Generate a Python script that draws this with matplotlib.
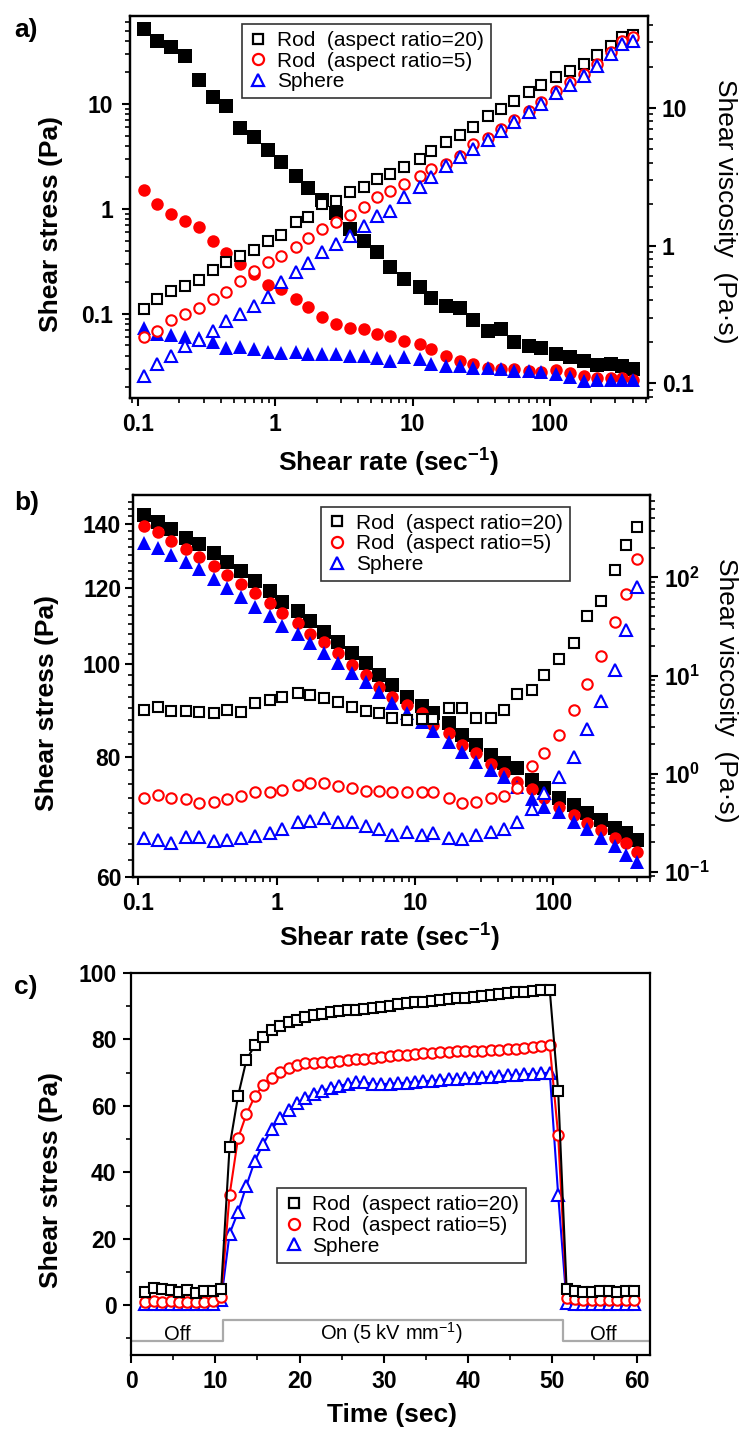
import matplotlib
matplotlib.use('Agg')
import matplotlib.pyplot as plt
from matplotlib.ticker import FixedLocator, NullFormatter, FuncFormatter, LogLocator, MultipleLocator
from matplotlib.lines import Line2D

plt.rcParams['font.family'] = ['Liberation Sans', 'DejaVu Sans']
plt.rcParams['font.weight'] = 'bold'
plt.rcParams['mathtext.default'] = 'regular'
plt.rcParams['axes.linewidth'] = 1.6

# ---------------- data ----------------
series_labels = ['Rod  (aspect ratio=20)', 'Rod  (aspect ratio=5)', 'Sphere']
colors = ['#000000', '#ff0000', '#0000ff']

shear_rate = [0.11, 0.138, 0.173, 0.221, 0.276, 0.351, 0.44, 0.549, 0.698, 0.89,
              1.1, 1.42, 1.73, 2.2, 2.76, 3.5, 4.4, 5.5, 6.8, 8.7,
              11.3, 13.5, 17.5, 22, 27.6, 35.5, 44, 55, 70, 86,
              110, 140, 176, 220, 280, 335, 405]

# panel a : shear stress (open) and viscosity (filled)
stress_rod20_a = [0.112, 0.139, 0.167, 0.186, 0.211, 0.263, 0.31, 0.359, 0.407, 0.50,
                  0.569, 0.746, 0.845, 1.12, 1.2, 1.44, 1.63, 1.93, 2.15, 2.53,
                  2.99, 3.59, 4.31, 5.11, 6.0, 7.74, 8.96, 10.7, 12.9, 15.3,
                  18.2, 20.5, 24.0, 29.5, 35.9, 43.2, 45.7]
stress_rod5_a = [0.060, 0.069, 0.0877, 0.1, 0.114, 0.139, 0.161, 0.208, 0.258, 0.310,
                 0.355, 0.432, 0.530, 0.645, 0.746, 0.877, 1.05, 1.29, 1.49, 1.73,
                 2.05, 2.40, 2.68, 3.22, 4.16, 4.75, 5.78, 7.05, 8.64, 10.4,
                 13.2, 16.1, 19.3, 24.0, 31.0, 39.5, 43.2]
stress_sphere_a = [0.0258, 0.0334, 0.0401, 0.0499, 0.0569, 0.0693, 0.0863, 0.1, 0.12, 0.146,
                   0.2, 0.249, 0.304, 0.387, 0.464, 0.557, 0.693, 0.863, 0.964, 1.29,
                   1.61, 2.0, 2.58, 3.1, 3.73, 4.54, 5.57, 6.7, 8.34, 10.0,
                   12.6, 15.3, 18.6, 23.2, 29.9, 37.3, 40.1]
visc_rod20_a = [37.6, 30.8, 27.6, 24.0, 16.1, 12.0, 10.4, 7.16, 6.12, 4.95,
                4.03, 3.22, 2.62, 2.14, 1.74, 1.32, 1.08, 0.893, 0.694, 0.570,
                0.497, 0.42, 0.365, 0.351, 0.287, 0.24, 0.247, 0.198, 0.187, 0.182,
                0.164, 0.154, 0.145, 0.136, 0.139, 0.134, 0.126]
visc_rod5_a = [2.54, 2.0, 1.69, 1.51, 1.36, 1.08, 0.877, 0.733, 0.621, 0.519,
               0.483, 0.408, 0.356, 0.301, 0.269, 0.254, 0.247, 0.227, 0.221, 0.203,
               0.192, 0.177, 0.158, 0.145, 0.139, 0.130, 0.128, 0.128, 0.123, 0.121,
               0.124, 0.118, 0.113, 0.11, 0.109, 0.109, 0.105]
visc_sphere_a = [0.254, 0.227, 0.224, 0.217, 0.215, 0.198, 0.182, 0.184, 0.177, 0.17,
                 0.167, 0.17, 0.164, 0.164, 0.163, 0.158, 0.158, 0.152, 0.145, 0.154,
                 0.15, 0.137, 0.134, 0.134, 0.13, 0.13, 0.128, 0.123, 0.123, 0.12,
                 0.116, 0.111, 0.104, 0.105, 0.105, 0.105, 0.105]

# panel b
stress_rod20_b = [89.5, 90.3, 89.4, 89.4, 89.2, 88.9, 89.5, 89.2, 91.0, 91.7,
                  92.4, 93.2, 92.8, 92.2, 91.4, 90.3, 89.4, 88.9, 87.8, 87.4,
                  87.6, 87.6, 89.9, 89.9, 87.8, 87.8, 89.5, 93.1, 94.0, 97.4,
                  101.2, 105.1, 112.3, 116.4, 125.3, 133.0, 139.0]
stress_rod5_b = [72.5, 73.1, 72.5, 72.3, 71.7, 71.9, 72.3, 72.8, 73.5, 73.5,
                 73.9, 74.8, 75.1, 75.1, 74.6, 74.2, 73.8, 73.8, 73.6, 73.6,
                 73.6, 73.5, 72.6, 71.6, 71.9, 72.5, 72.9, 74.3, 78.3, 80.7,
                 84.3, 89.5, 95.3, 102.0, 110.7, 118.3, 128.8]
stress_sphere_b = [65.9, 65.6, 65.1, 66.0, 66.1, 65.4, 65.6, 65.9, 66.2, 66.6,
                   67.4, 68.5, 68.7, 69.1, 68.4, 68.5, 67.8, 67.3, 66.4, 66.9,
                   66.4, 66.6, 65.9, 65.7, 66.4, 66.9, 67.4, 68.5, 70.7, 73.4,
                   76.2, 80.1, 85.5, 91.6, 98.6, 108.5, 120.4]
visc_rod20_b = [433, 370, 309, 250, 219, 179, 145, 117, 92.5, 73.1,
                56.5, 45.8, 36.2, 28.0, 22.1, 16.8, 13.3, 10.1, 8.0, 6.08,
                4.89, 4.12, 3.26, 2.47, 1.96, 1.55, 1.27, 1.13, 0.861, 0.708,
                0.56, 0.479, 0.394, 0.336, 0.277, 0.246, 0.21]
visc_rod5_b = [334, 292, 237, 193, 163, 131, 106, 85.7, 68.9, 54.5,
               43.1, 34.5, 26.5, 22.1, 16.8, 12.8, 10.1, 7.69, 6.08, 5.0,
               4.18, 3.13, 2.61, 1.96, 1.61, 1.25, 1.02, 0.826, 0.692, 0.56,
               0.46, 0.378, 0.311, 0.266, 0.219, 0.195, 0.16]
visc_sphere_b = [223, 198, 169, 145, 121, 95.7, 77.4, 63.5, 50.2, 40.4,
                 32.0, 26.5, 21.6, 16.8, 13.3, 10.7, 8.65, 6.84, 5.21, 4.18,
                 3.38, 2.74, 2.11, 1.67, 1.32, 1.09, 0.917, 0.735, 0.547, 0.46,
                 0.409, 0.324, 0.27, 0.219, 0.183, 0.148, 0.126]

# panel c
time_s = [1.7, 2.7, 3.7, 4.7, 5.7, 6.7, 7.7, 8.7, 9.7, 10.7,
          11.7, 12.7, 13.7, 14.7, 15.7, 16.7, 17.7, 18.7, 19.7, 20.7,
          21.7, 22.7, 23.7, 24.7, 25.7, 26.7, 27.7, 28.7, 29.7, 30.7,
          31.7, 32.7, 33.7, 34.7, 35.7, 36.7, 37.7, 38.7, 39.7, 40.7,
          41.7, 42.7, 43.7, 44.7, 45.7, 46.7, 47.7, 48.7, 49.7, 50.7,
          51.7, 52.7, 53.7, 54.7, 55.7, 56.7, 57.7, 58.7, 59.7]
stress_rod20_c = [4.1, 5.1, 4.8, 4.6, 4.1, 4.6, 3.8, 4.4, 4.4, 4.8,
                  47.7, 62.9, 73.8, 78.3, 80.6, 82.8, 84.0, 85.3, 86.0, 86.8,
                  87.3, 87.8, 88.3, 88.6, 88.8, 89.0, 89.3, 89.6, 89.9, 90.2,
                  90.6, 90.9, 91.2, 91.4, 91.7, 91.9, 92.2, 92.4, 92.6, 92.9,
                  93.1, 93.4, 93.6, 93.9, 94.2, 94.4, 94.6, 94.8, 94.9, 64.5,
                  5.0, 4.4, 4.0, 4.0, 4.4, 4.4, 4.0, 4.2, 4.2]
stress_rod5_c = [1.1, 1.3, 1.1, 1.2, 1.1, 1.1, 1.1, 1.1, 1.2, 2.6,
                 33.2, 50.2, 57.5, 62.9, 66.3, 68.3, 70.3, 71.3, 72.3, 72.8,
                 73.0, 73.3, 73.3, 73.6, 73.8, 74.0, 74.2, 74.4, 74.7, 75.0,
                 75.2, 75.4, 75.6, 75.9, 75.9, 76.2, 76.2, 76.4, 76.4, 76.6,
                 76.6, 76.9, 76.9, 77.2, 77.2, 77.4, 77.6, 77.9, 78.2, 51.2,
                 2.3, 1.8, 1.6, 1.6, 1.7, 1.6, 1.6, 1.6, 1.6]
stress_sphere_c = [0.3, 0.3, 0.3, 0.3, 0.3, 0.3, 0.3, 0.3, 0.3, 1.5,
                   21.5, 28.0, 36.0, 43.5, 48.5, 53.0, 56.2, 58.7, 60.8, 62.3,
                   63.6, 64.6, 65.3, 66.0, 66.6, 67.1, 67.1, 66.6, 66.5, 66.7,
                   66.8, 67.0, 67.2, 67.4, 67.6, 67.8, 68.0, 68.1, 68.3, 68.5,
                   68.6, 68.8, 69.0, 69.2, 69.4, 69.5, 69.7, 69.8, 70.0, 33.2,
                   0.8, 0.3, 0.3, 0.3, 0.3, 0.3, 0.3, 0.3, 0.3]

# electric field indicator (step line)
field_time = [0, 10.9, 10.9, 51.3, 51.3, 61.6]
field_level = [-10.9, -10.9, -4.4, -4.4, -10.9, -10.9]
field_labels = ['Off', 'On (5 kV mm$^{-1}$)', 'Off']
field_label_x = [5.45, 30.9, 56.1]

# ---------------- style ----------------
open_markers = ['s', 'o', '^']
open_ms = [7.0, 7.5, 8.2]
filled_ms = [9.5, 9.0, 10.5]
TICK_FS = 16.5
LABEL_FS = 19
LEG_FS = 15
VISC_LABEL = 'Shear viscosity  (Pa\u00b7s)'

fig = plt.figure(figsize=(7.4, 14.31), dpi=100)

def style_axis(ax, left_pad):
    ax.tick_params(axis='both', which='major', direction='out', length=6, width=1.5,
                   labelsize=TICK_FS, top=False)
    ax.tick_params(axis='both', which='minor', direction='out', length=3.5, width=1.2, top=False)
    ax.tick_params(axis='y', which='both', pad=left_pad)
    ax.tick_params(axis='x', which='major', pad=5)

def add_legend(ax, anchor):
    handles = [Line2D([], [], ls='none', marker=m, mfc='white', mec=c, mew=1.6, ms=s)
               for m, c, s in zip(open_markers, colors, [7.5, 8.0, 8.5])]
    leg = ax.legend(handles, series_labels, loc='upper left', bbox_to_anchor=anchor,
                    borderaxespad=0, frameon=True, fancybox=False, framealpha=1,
                    edgecolor='#333333', prop={'size': LEG_FS, 'weight': 'normal'},
                    labelspacing=0.08, handlelength=0.9, handletextpad=0.45,
                    borderpad=0.33)
    leg.get_frame().set_linewidth(1.2)
    return leg

fmt_g = FuncFormatter(lambda v, p: '%g' % v)

# ================= panel a =================
axa = fig.add_axes([130/740, 1-398/1431, 518/740, 382/1431])
axa2 = axa.twinx()
axa.set_zorder(axa2.get_zorder() + 1)
axa.patch.set_visible(False)
for ax in (axa, axa2):
    ax.set_xscale('log')
    ax.set_yscale('log')
axa.set_xlim(0.0874, 518)
axa.set_ylim(0.0158, 68.9)
axa2.set_ylim(0.0782, 46.6)

axa2.plot(shear_rate, visc_rod20_a, ls='none', marker='s', color=colors[0], ms=filled_ms[0], mew=0)
axa2.plot(shear_rate, visc_rod5_a, ls='none', marker='o', color=colors[1], ms=filled_ms[1], mew=0)
axa2.plot(shear_rate, visc_sphere_a, ls='none', marker='^', color=colors[2], ms=filled_ms[2], mew=0)
for vals, m, c, s in zip([stress_rod20_a, stress_rod5_a, stress_sphere_a], open_markers, colors, open_ms):
    axa.plot(shear_rate, vals, ls='none', marker=m, mfc='white', mec=c, ms=s, mew=1.5)

style_axis(axa, 6)
style_axis(axa2, 4)
axa2.tick_params(axis='y', which='both', right=True, left=False)
axa.tick_params(axis='y', which='both', right=False)
axa.xaxis.set_major_formatter(fmt_g)
axa.yaxis.set_major_formatter(fmt_g)
axa2.yaxis.set_major_formatter(fmt_g)
for ax in (axa, axa2):
    ax.yaxis.set_minor_formatter(NullFormatter())
axa.xaxis.set_minor_formatter(NullFormatter())
axa.set_xlabel('Shear rate (sec$^{-1}$)', fontsize=LABEL_FS, fontweight='bold', va='center')
axa.xaxis.set_label_coords(0.498, -0.170)
axa.set_ylabel('Shear stress (Pa)', fontsize=LABEL_FS, fontweight='bold', va='center', ha='center')
axa.yaxis.set_label_coords(-0.153, 0.455)
axa2.set_ylabel(VISC_LABEL, fontsize=LABEL_FS, fontweight='normal',
                rotation=270, va='center', ha='center')
axa2.yaxis.set_label_coords(1.149, 0.49)
add_legend(axa, (0.216, 0.979))
fig.text(14/740, 1-30/1431, 'a)', fontsize=19, fontweight='bold', va='center', ha='left')

# ================= panel b =================
axb = fig.add_axes([133/740, 1-877/1431, 517/740, 382/1431])
axb2 = axb.twinx()
axb.set_zorder(axb2.get_zorder() + 1)
axb.patch.set_visible(False)
for ax in (axb, axb2):
    ax.set_xscale('log')
    ax.set_yscale('log')
axb.set_xlim(0.0915, 500)
axb.set_ylim(60, 150)
axb2.set_ylim(0.0883, 692)

axb2.plot(shear_rate, visc_rod20_b, ls='none', marker='s', color=colors[0], ms=filled_ms[0], mew=0)
axb2.plot(shear_rate, visc_rod5_b, ls='none', marker='o', color=colors[1], ms=filled_ms[1], mew=0)
axb2.plot(shear_rate, visc_sphere_b, ls='none', marker='^', color=colors[2], ms=filled_ms[2], mew=0)
for vals, m, c, s in zip([stress_rod20_b, stress_rod5_b, stress_sphere_b], open_markers, colors, open_ms):
    axb.plot(shear_rate, vals, ls='none', marker=m, mfc='white', mec=c, ms=s, mew=1.5)

style_axis(axb, 2.5)
style_axis(axb2, 4)
axb2.tick_params(axis='y', which='both', right=True, left=False)
axb.tick_params(axis='y', which='both', right=False)
axb.xaxis.set_major_formatter(fmt_g)
axb.xaxis.set_minor_formatter(NullFormatter())
axb.yaxis.set_major_locator(FixedLocator([60, 80, 100, 120, 140]))
axb.yaxis.set_major_formatter(fmt_g)
axb.yaxis.set_minor_locator(FixedLocator([62.5, 65, 67.5, 70, 72.5, 75, 77.5, 82.5, 85, 87.5,
                                          90, 92.5, 95, 97.5, 102.5, 105, 107.5, 110, 112.5,
                                          115, 117.5, 122.5, 125, 127.5, 130, 132.5, 135,
                                          137.5, 142.5, 145, 147.5]))
axb.yaxis.set_minor_formatter(NullFormatter())
axb2.yaxis.set_major_locator(LogLocator(base=10, numticks=10))
axb2.yaxis.set_minor_formatter(NullFormatter())
axb.set_xlabel('Shear rate (sec$^{-1}$)', fontsize=LABEL_FS, fontweight='bold', va='center')
axb.xaxis.set_label_coords(0.495, -0.160)
axb.set_ylabel('Shear stress (Pa)', fontsize=LABEL_FS, fontweight='bold', va='center', ha='center')
axb.yaxis.set_label_coords(-0.167, 0.455)
axb2.set_ylabel(VISC_LABEL, fontsize=LABEL_FS, fontweight='normal',
                rotation=270, va='center', ha='center')
axb2.yaxis.set_label_coords(1.147, 0.49)
add_legend(axb, (0.364, 0.969))
fig.text(14/740, 1-503/1431, 'b)', fontsize=19, fontweight='bold', va='center', ha='left')

# ================= panel c =================
axc = fig.add_axes([131/740, 1-1355/1431, 519/740, 382/1431])
axc.set_xlim(0, 61.6)
axc.set_ylim(-15, 100)
axc.plot(field_time, field_level, color='#aaaaaa', lw=1.6, zorder=1)
for tx, lab in zip(field_label_x, field_labels):
    axc.text(tx, -10.4, lab, fontsize=14.5, fontweight='normal', ha='center', va='baseline')
for vals, m, c, s in list(zip([stress_rod20_c, stress_rod5_c, stress_sphere_c], open_markers, colors, open_ms))[::-1]:
    axc.plot(time_s, vals, color=c, lw=1.5, marker=m, mfc='white', mec=c, ms=s, mew=1.5)
style_axis(axc, 4.5)
axc.tick_params(axis='both', which='both', right=False, top=False)
axc.xaxis.set_major_locator(MultipleLocator(10))
axc.xaxis.set_minor_locator(MultipleLocator(5))
axc.yaxis.set_major_locator(FixedLocator([0, 20, 40, 60, 80, 100]))
axc.yaxis.set_minor_locator(FixedLocator([-10, 10, 30, 50, 70, 90]))
axc.set_xlabel('Time (sec)', fontsize=LABEL_FS, fontweight='bold', va='center')
axc.xaxis.set_label_coords(0.502, -0.157)
axc.set_ylabel('Shear stress (Pa)', fontsize=LABEL_FS, fontweight='bold', va='center', ha='center')
axc.yaxis.set_label_coords(-0.155, 0.458)
add_legend(axc, (0.282, 0.436))
fig.text(14/740, 1-987/1431, 'c)', fontsize=19, fontweight='bold', va='center', ha='left')

fig.savefig('out.png', dpi=100)
